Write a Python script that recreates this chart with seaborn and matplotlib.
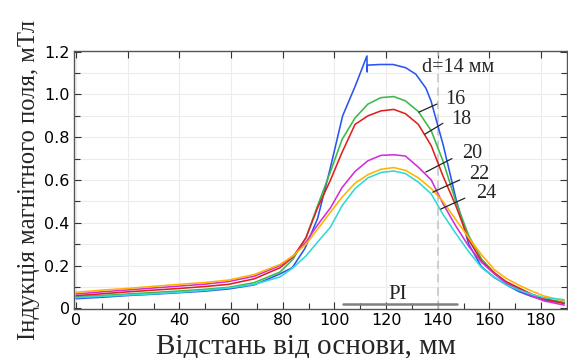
import numpy as np
import pandas as pd
import matplotlib
matplotlib.use("Agg")
import matplotlib.pyplot as plt
from matplotlib.ticker import MultipleLocator, FixedLocator
import seaborn as sns

# ---- data ----
x_common = [0, 10, 20, 30, 40, 50, 59, 69, 79, 84, 89, 93.5, 98.5, 103, 108, 113, 118, 123,
            127.5, 132.5, 137.5, 142, 147, 152, 157, 162, 166.5, 171.5, 176.5, 181, 189]
b16 = [0.054, 0.060, 0.067, 0.074, 0.081, 0.089, 0.098, 0.120, 0.170, 0.230, 0.330, 0.480, 0.640,
       0.790, 0.890, 0.955, 0.985, 0.990, 0.970, 0.920, 0.830, 0.690, 0.500, 0.340, 0.230, 0.165,
       0.120, 0.090, 0.065, 0.045, 0.028]
b18 = [0.059, 0.068, 0.077, 0.085, 0.093, 0.102, 0.112, 0.138, 0.190, 0.240, 0.330, 0.470, 0.600,
       0.730, 0.860, 0.900, 0.923, 0.930, 0.910, 0.860, 0.760, 0.620, 0.480, 0.320, 0.220, 0.165,
       0.125, 0.095, 0.065, 0.045, 0.022]
b20 = [0.067, 0.077, 0.086, 0.095, 0.104, 0.113, 0.125, 0.150, 0.200, 0.245, 0.310, 0.390, 0.470,
       0.565, 0.640, 0.690, 0.715, 0.718, 0.712, 0.660, 0.600, 0.490, 0.385, 0.290, 0.215, 0.160,
       0.118, 0.085, 0.058, 0.035, 0.015]
b22 = [0.075, 0.085, 0.093, 0.103, 0.112, 0.121, 0.132, 0.158, 0.205, 0.245, 0.300, 0.370, 0.450,
       0.520, 0.585, 0.625, 0.650, 0.658, 0.645, 0.610, 0.560, 0.500, 0.415, 0.330, 0.250, 0.180,
       0.140, 0.108, 0.080, 0.058, 0.035]
b24 = [0.050, 0.056, 0.062, 0.068, 0.075, 0.084, 0.095, 0.112, 0.147, 0.190, 0.245, 0.310, 0.380,
       0.480, 0.560, 0.610, 0.635, 0.642, 0.630, 0.590, 0.535, 0.440, 0.350, 0.265, 0.190, 0.145,
       0.110, 0.085, 0.065, 0.050, 0.040]
x14 = [0, 10.5, 20.3, 30, 39.8, 49.6, 59.3, 69.1, 78.8, 83.7, 88.6, 93.5, 98.3, 103.2, 108.1,
       112.6, 112.7, 112.75, 117.8, 122.7, 127.6, 131.5, 135.4, 137.4, 142.2, 147.1, 152, 156.9,
       161.8, 166.6, 171.5, 176.4, 181.3, 189]
b14 = [0.045, 0.052, 0.060, 0.066, 0.073, 0.080, 0.091, 0.110, 0.160, 0.190, 0.280, 0.420, 0.650,
       0.900, 1.040, 1.180, 1.105, 1.137, 1.140, 1.140, 1.125, 1.095, 1.030, 0.970, 0.760, 0.510,
       0.300, 0.195, 0.145, 0.110, 0.078, 0.055, 0.038, 0.025]

series_names = ["14", "16", "18", "20", "22", "24"]
colors = ["#2a55f2", "#3cb84a", "#e0201e", "#d22ed8", "#ffb300", "#30d8d8"]
label_texts = ["d=14 мм", "16", "18", "20", "22", "24"]
xticks = [0, 20, 40, 60, 80, 100, 120, 140, 160, 180]
yticks = [0, 0.2, 0.4, 0.6, 0.8, 1.0, 1.2]
ytick_labels = ["0", "0.2", "0.4", "0.6", "0.8", "1.0", "1.2"]

frames = [pd.DataFrame({"x": x14, "B": b14, "d": "14"})]
for name, vals in zip(series_names[1:], [b16, b18, b20, b22, b24]):
    frames.append(pd.DataFrame({"x": x_common, "B": vals, "d": name}))
df = pd.concat(frames, ignore_index=True)

sns.set_style("ticks")
plt.rcParams["font.family"] = ["DejaVu Sans"]

fig = plt.figure(figsize=(5.68, 3.58), dpi=100)
ax = fig.add_axes([0.1303, 0.137, 0.8677, 0.7205])

sns.lineplot(data=df, x="x", y="B", hue="d", hue_order=series_names,
             palette=dict(zip(series_names, colors)), estimator=None, sort=False,
             linewidth=1.15, legend=False, ax=ax)

ax.set_xlim(-0.8, 190)
ax.set_ylim(-0.003, 1.203)
ax.xaxis.set_major_locator(FixedLocator(xticks))
ax.xaxis.set_minor_locator(MultipleLocator(10))
ax.yaxis.set_major_locator(FixedLocator(yticks))
ax.set_yticklabels(ytick_labels)
ax.yaxis.set_minor_locator(MultipleLocator(0.1))
ax.tick_params(axis="both", which="both", direction="in", top=True, right=True,
               labelsize=11.5, colors="#333333", labelcolor="black", pad=3)
ax.tick_params(axis="both", which="major", length=5, width=0.8)
ax.tick_params(axis="both", which="minor", length=4, width=0.8)
ax.tick_params(axis="x", which="minor", top=False)
for x in xticks:
    ax.axvline(x, color="#ececec", lw=0.8, zorder=0)
for y in np.arange(0.1, 1.2, 0.1):
    ax.axhline(y, color="#ececec", lw=0.8, zorder=0)
for s in ax.spines.values():
    s.set_color("#555555")
    s.set_linewidth(1.0)

# dashed vertical line at 140
ax.axvline(140, color="#c8c8c8", lw=1.2, ls=(0, (5, 3)), zorder=1)

serif = ["Liberation Serif", "DejaVu Serif"]
ax.set_xlabel("Відстань від основи, мм", family=serif, fontsize=21)
ax.xaxis.set_label_coords(0.47, -0.095, transform=ax.transAxes)
ax.xaxis.label.set_va("top")
ax.set_ylabel("Індукція магнітного поля, мТл", family=serif, fontsize=17.7, labelpad=3)

# curve labels with leader lines
ax.text(133.8, 1.128, label_texts[0], family=serif, fontsize=14.5, va="center", ha="left")
lab_pos = [(143.1, 0.975), (145.3, 0.885), (149.3, 0.725), (152.3, 0.625), (155, 0.535)]
leaders = [((132.7, 0.917), (139.7, 0.955)),
           ((135.0, 0.814), (142.0, 0.865)),
           ((135.4, 0.637), (145.5, 0.700)),
           ((138.1, 0.543), (148.5, 0.600)),
           ((141.2, 0.464), (150.5, 0.515))]
for txt, (tx, ty), (p0, p1) in zip(label_texts[1:], lab_pos, leaders):
    ax.text(tx, ty, txt, family=serif, fontsize=14.5, va="center", ha="left")
    ax.plot([p0[0], p1[0]], [p0[1], p1[1]], color="#222222", lw=0.9)

# PI marker
ax.plot([103.2, 147.3], [0.02, 0.02], color="#808080", lw=1.8)
ax.text(124.6, 0.065, "PI", family=serif, fontsize=15, ha="center", va="center", color="#222222")

fig.savefig("out.png", dpi=100)
